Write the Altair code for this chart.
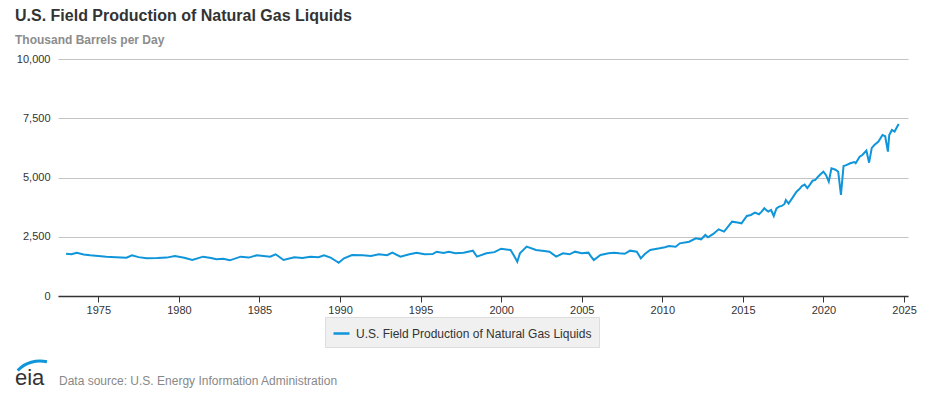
import altair as alt
import pandas as pd

# Monthly points (thousand barrels per day)
months = [
    "1973-01", "1973-05", "1973-09", "1974-02", "1974-07", "1975-01", "1975-07", "1976-02",
    "1976-10", "1977-02", "1977-07", "1978-01", "1978-09", "1979-04", "1979-10", "1980-05",
    "1980-11", "1981-07", "1982-01", "1982-05", "1982-10", "1983-03", "1983-11", "1984-05",
    "1984-11", "1985-09", "1986-01", "1986-07", "1987-03", "1987-09", "1988-03", "1988-09",
    "1989-01", "1989-06", "1989-10", "1989-12", "1990-04", "1990-10", "1991-06", "1991-12",
    "1992-06", "1992-12", "1993-04", "1993-10", "1994-04", "1994-10", "1995-04", "1995-10",
    "1996-01", "1996-06", "1996-10", "1997-03", "1997-09", "1998-04", "1998-07", "1999-02",
    "1999-08", "2000-01", "2000-08", "2000-11", "2001-01", "2001-03", "2001-08", "2002-03",
    "2002-09", "2003-01", "2003-06", "2003-11", "2004-04", "2004-08", "2005-01", "2005-06",
    "2005-08", "2005-10", "2006-03", "2006-09", "2007-01", "2007-05", "2007-09", "2008-01",
    "2008-06", "2008-09", "2008-12", "2009-04", "2009-11", "2010-03", "2010-06", "2010-11",
    "2011-02", "2011-09", "2012-02", "2012-06", "2012-09", "2012-11", "2013-03", "2013-07",
    "2013-11", "2014-05", "2014-09", "2014-12", "2015-04", "2015-07", "2015-10", "2016-01",
    "2016-03", "2016-05", "2016-07", "2016-08", "2016-10", "2016-12", "2017-02", "2017-04",
    "2017-06", "2017-08", "2017-09", "2017-11", "2017-12", "2018-02", "2018-05", "2018-07",
    "2018-09", "2018-11", "2019-01", "2019-03", "2019-05", "2019-07", "2019-09", "2019-11",
    "2020-01", "2020-03", "2020-05", "2020-07", "2020-10", "2020-12", "2021-02", "2021-04",
    "2021-06", "2021-09", "2021-12", "2022-01", "2022-04", "2022-06", "2022-09", "2022-11",
    "2023-01", "2023-03", "2023-06", "2023-09", "2023-11", "2024-01", "2024-02", "2024-04",
    "2024-06", "2024-09",
]
ngl_production = [
    1785, 1760, 1828, 1750, 1717, 1690, 1660, 1640,
    1617, 1717, 1640, 1590, 1600, 1620, 1688, 1617,
    1519, 1660, 1600, 1548, 1575, 1505, 1660, 1620,
    1717, 1660, 1760, 1519, 1632, 1600, 1660, 1640,
    1717, 1617, 1477, 1406, 1590, 1730, 1717, 1690,
    1758, 1720, 1828, 1660, 1750, 1828, 1760, 1772,
    1870, 1820, 1870, 1800, 1828, 1913, 1660, 1800,
    1850, 1997, 1940, 1660, 1448, 1800, 2082, 1940,
    1900, 1870, 1660, 1800, 1760, 1870, 1800, 1828,
    1660, 1519, 1730, 1800, 1828, 1800, 1780, 1913,
    1870, 1590, 1772, 1941, 2011, 2060, 2110, 2082,
    2222, 2292, 2435, 2392, 2574, 2475, 2620, 2813,
    2715, 3136, 3100, 3066, 3376, 3420, 3516, 3450,
    3560, 3700, 3600, 3560, 3629, 3376, 3700, 3770,
    3800, 3882, 4051, 3900, 3980, 4150, 4401, 4500,
    4642, 4700, 4556, 4700, 4866, 4900, 5034, 5150,
    5245, 5100, 4824, 5388, 5330, 5245, 4262, 5486,
    5520, 5600, 5650, 5600, 5880, 5950, 6133, 5625,
    6250, 6372, 6513, 6795, 6740, 6090, 6795, 7005,
    6937, 7258,
]
series_name = "U.S. Field Production of Natural Gas Liquids"
y_ticks = [0, 2500, 5000, 7500, 10000]

FONT = "Liberation Sans"
BLUE = "#0f95d9"

df = pd.DataFrame({
    "date": pd.to_datetime([m + "-01" for m in months]),
    "value": ngl_production,
    "series": series_name,
})

line = alt.Chart(df).mark_line(strokeWidth=2, interpolate="linear").encode(
    x=alt.X(
        "date:T",
        scale=alt.Scale(domain=["1972-07-01", "2025-04-01"]),
        axis=alt.Axis(
            format="%Y", tickCount={"interval": "year", "step": 5}, grid=False,
            domainColor="#333333", domainWidth=1.5, tickColor="#333333", tickSize=6,
            labelPadding=2, labelFontSize=11, labelColor="#333333", labelFont=FONT,
            labelFlush=False, title=None,
        ),
    ),
    y=alt.Y(
        "value:Q",
        scale=alt.Scale(domain=[0, 10000], nice=False),
        axis=alt.Axis(
            values=y_ticks, format=",.0f", domain=False, ticks=False, labelPadding=8,
            gridColor="#c4c4c4", gridWidth=1, labelFontSize=11, labelColor="#333333",
            labelFont=FONT, title=None,
        ),
    ),
    color=alt.Color(
        "series:N",
        scale=alt.Scale(range=[BLUE]),
        legend=alt.Legend(
            title=None, orient="none", legendX=267, legendY=258,
            fillColor="#f0f0f0", strokeColor="#dddddd", padding=7,
            symbolType="stroke", symbolStrokeWidth=2.5, symbolSize=256,
            labelFont=FONT, labelFontSize=12, labelColor="#333333", labelOffset=5,
            labelLimit=500,
        ),
    ),
)

one = pd.DataFrame({"k": [0]})

logo_arc = alt.Chart(one).mark_arc(
    innerRadius=29.5, outerRadius=32.5, theta=5.48, theta2=6.51, color=BLUE
).encode(x=alt.value(-18), y=alt.value(333))

logo_text = alt.Chart(one).mark_text(
    text="eia", font=FONT, fontSize=22, color="#333333", align="left", baseline="alphabetic"
).encode(x=alt.value(-43), y=alt.value(326))

source_text = alt.Chart(one).mark_text(
    text="Data source: U.S. Energy Information Administration", font=FONT, fontSize=12,
    color="#888888", align="left", baseline="alphabetic"
).encode(x=alt.value(1), y=alt.value(326))

chart = alt.layer(line, logo_arc, logo_text, source_text).properties(
    width=850,
    height=237,
    autosize=alt.AutoSizeParams(type="none"),
    padding={"left": 50, "top": 51, "right": 12, "bottom": 108},
    background="white",
    title=alt.Title(
        "U.S. Field Production of Natural Gas Liquids",
        subtitle="Thousand Barrels per Day",
        anchor="start", frame="group", dx=-43, offset=7,
        font=FONT, fontSize=16, fontWeight="bold", color="#333333",
        subtitleFont=FONT, subtitleFontSize=12, subtitleFontWeight="bold",
        subtitleColor="#8c8c8c", subtitlePadding=11,
    ),
).configure_view(strokeWidth=0)

chart.save("out.html", embed_options={"renderer": "svg", "actions": False})
